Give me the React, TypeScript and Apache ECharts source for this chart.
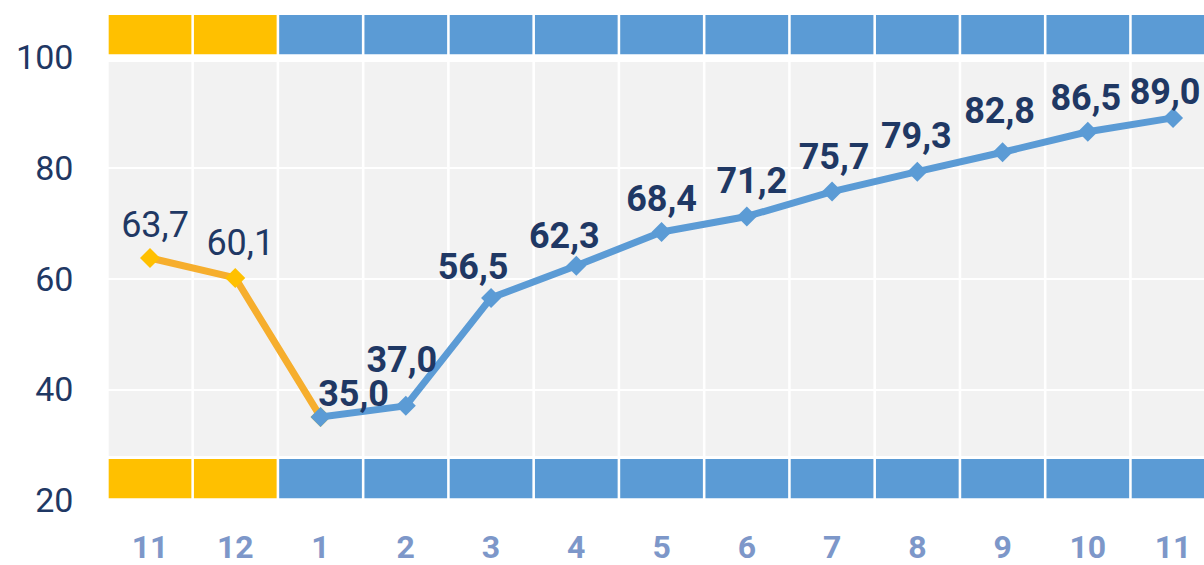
import React, { useEffect, useRef } from "react";
import * as echarts from "echarts";

// ---- data ----
const categories = ["11", "12", "1", "2", "3", "4", "5", "6", "7", "8", "9", "10", "11"];
const prevPeriodValues: (number | null)[] = [63.7, 60.1, 35.0, null, null, null, null, null, null, null, null, null, null];
const currPeriodValues: (number | null)[] = [null, null, 35.0, 37.0, 56.5, 62.3, 68.4, 71.2, 75.7, 79.3, 82.8, 86.5, 89.0];
const yTickLabels = [20, 40, 60, 80, 100];
const prevPeriodCount = 2; // first two months belong to the previous year

// ---- styles ----
const NAVY = "#1F3864";
const YELLOW = "#FFC000";
const YELLOW_LINE = "#F6AE2D";
const BLUE = "#5B9BD5";
const GRAY = "#F2F2F2";
const XLABEL = "#7D97C9";
const FONT = "Roboto";

// label offsets (px) relative to the marker centre
const prevLabelOffsets: [number, number][] = [[5, -33], [5, -35]];
const currLabelOffsets: ([number, number] | null)[] = [
  null, null, [33, -23], [-4, -46], [-18, -31], [-12, -30], [0, -33], [5, -35], [2, -35], [-1, -36], [-3, -41], [-2, -34], [-8, -26],
];

const fmt = (v: number) => v.toFixed(1).replace(".", ",");

export default function App() {
  const ref = useRef<HTMLDivElement>(null);

  useEffect(() => {
    if (!ref.current) return;
    const chart = echarts.init(ref.current, undefined, { renderer: "svg" });

    const bandColor = (i: number) => (i < prevPeriodCount ? YELLOW : BLUE);
    const fill = (v: number) => categories.map(() => v);

    // stacked decorative layers (value-space heights)
    const layers = [
      { name: "base", h: 20.3, color: (_: number) => "transparent" },
      { name: "bandBottom", h: 7.1, color: bandColor },
      { name: "gap1", h: 0.55, color: (_: number) => "transparent" },
      { name: "plot", h: 71.15, color: (_: number) => GRAY },
      { name: "gap2", h: 1.4, color: (_: number) => "transparent" },
      { name: "bandTop", h: 7.1, color: bandColor },
    ];

    const barSeries = layers.map((l) => ({
      type: "bar",
      name: l.name,
      stack: "bg",
      silent: true,
      z: 1,
      barCategoryGap: "3%",
      data: fill(l.h).map((v, i) => ({ value: v, itemStyle: { color: l.color(i) } })),
    }));

    const prevData = prevPeriodValues.map((v, i) => ({
      value: v,
      label: i < prevLabelOffsets.length
        ? { show: true, offset: prevLabelOffsets[i] }
        : { show: false },
    }));

    const currData = currPeriodValues.map((v, i) => ({
      value: v,
      label: currLabelOffsets[i]
        ? { show: true, offset: currLabelOffsets[i] }
        : { show: false },
    }));

    chart.setOption({
      animation: false,
      backgroundColor: "#ffffff",
      grid: { left: 107.4, right: 4.3, top: 12.7, bottom: 65, containLabel: false },
      xAxis: {
        type: "category",
        data: categories,
        axisLine: { show: false },
        axisTick: { show: false },
        splitLine: { show: false },
        axisLabel: {
          margin: 34,
          color: XLABEL,
          fontFamily: FONT,
          fontWeight: "bold",
          fontSize: 32,
          lineHeight: 26,
        },
      },
      yAxis: {
        type: "value",
        min: 20,
        max: 108,
        interval: 20,
        z: 3,
        axisLine: { show: false },
        axisTick: { show: false },
        splitLine: { show: true, lineStyle: { color: "#ffffff", width: 2 } },
        axisLabel: {
          margin: 34,
          color: NAVY,
          fontFamily: FONT,
          fontSize: 34,
          showMaxLabel: false,
          formatter: (v: number) => (yTickLabels.includes(v) ? String(v) : ""),
        },
      },
      series: [
        ...barSeries,
        {
          type: "line",
          name: "prev",
          z: 5,
          data: prevData,
          symbol: "diamond",
          symbolSize: 20,
          itemStyle: { color: YELLOW },
          lineStyle: { color: YELLOW_LINE, width: 7 },
          label: {
            position: "inside",
            color: NAVY,
            fontFamily: FONT,
            fontSize: 36,
            fontWeight: "normal",
            formatter: (p: any) => fmt(p.value),
          },
        },
        {
          type: "line",
          name: "curr",
          z: 6,
          data: currData,
          symbol: "diamond",
          symbolSize: 20,
          itemStyle: { color: BLUE },
          lineStyle: { color: BLUE, width: 7 },
          label: {
            position: "inside",
            color: NAVY,
            fontFamily: FONT,
            fontSize: 36,
            fontWeight: "bold",
            formatter: (p: any) => fmt(p.value),
          },
        },
      ],
    });

    return () => chart.dispose();
  }, []);

  return (
    <div style={{ position: "fixed", left: 0, top: 0, width: 1204, height: 565, overflow: "hidden", background: "#fff" }}>
      <div ref={ref} style={{ width: 1220, height: 565 }} />
    </div>
  );
}
